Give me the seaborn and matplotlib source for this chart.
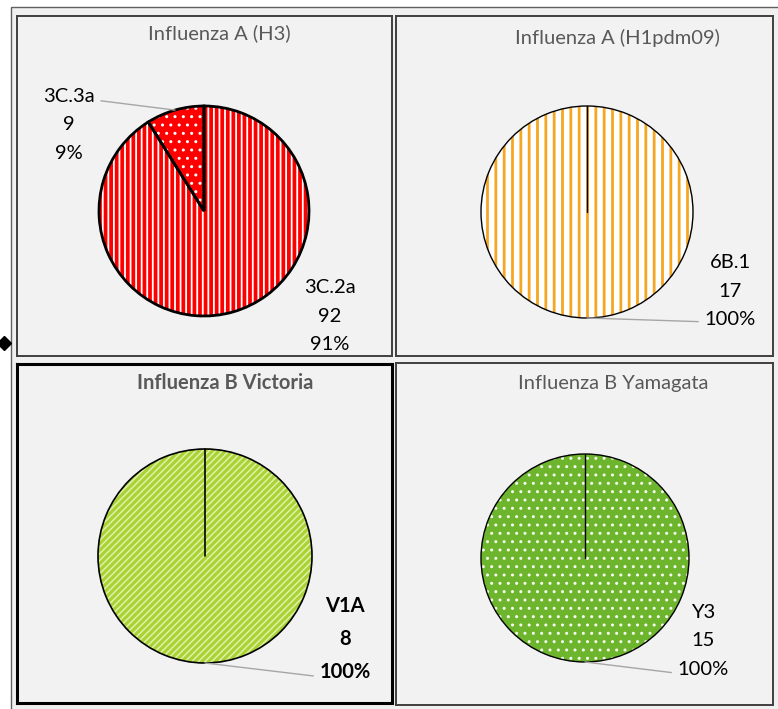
import numpy as np
import matplotlib
matplotlib.use('Agg')
import matplotlib.pyplot as plt
from matplotlib.patches import Rectangle
from matplotlib.lines import Line2D
import seaborn as sns

sns.set_theme(style='white')
plt.rcParams['font.family'] = ['Lato', 'DejaVu Sans']

# data
titles = ['Influenza A (H3)', 'Influenza A (H1pdm09)',
          'Influenza B Victoria', 'Influenza B Yamagata']
h3_clades = ['3C.2a', '3C.3a']
h3_counts = [92, 9]
h1_clades = ['6B.1']
h1_counts = [17]
bvic_clades = ['V1A']
bvic_counts = [8]
byam_clades = ['Y3']
byam_counts = [15]

W, H = 778, 709
fig = plt.figure(figsize=(W / 100, H / 100), dpi=100)
fig.patch.set_facecolor('white')

# outer frame of the whole chart group (behind the panels)
fig.add_artist(Rectangle((11 / W, -0.01), 1, 1 - 7 / H + 0.01,
                         transform=fig.transFigure, facecolor='#F0F0F0',
                         edgecolor='#606060', lw=1, zorder=-10))

LABEL_FS = 14.5
TITLE_FS = 14.5
LSP = 1.8


def panel(box, center, radius, title, title_xy, clades, counts, styles,
          label_xy, lead_rel, bold=False, border_color='#404040',
          border_lw=1.4, edge_lw=1.0):
    x0, y0, x1, y1 = box
    ax = fig.add_axes([x0 / W, 1 - y1 / H, (x1 - x0) / W, (y1 - y0) / H])
    cx, cy = center[0], H - center[1]

    # hatched fill (hatch colour comes from the edge colour)
    fills, _ = ax.pie(counts, startangle=90, counterclock=False,
                      center=(cx, cy), radius=radius,
                      colors=[s['face'] for s in styles],
                      wedgeprops=dict(linewidth=0))
    for w, s in zip(fills, styles):
        w.set_hatch(s['hatch'])
        w.set_edgecolor(s['hcolor'])
        if hasattr(w, 'set_hatch_linewidth'):
            w.set_hatch_linewidth(s['hlw'])

    # black outlines on top
    outl, _ = ax.pie(counts, startangle=90, counterclock=False,
                     center=(cx, cy), radius=radius,
                     wedgeprops=dict(fill=False, edgecolor='black',
                                     linewidth=edge_lw))
    if len(counts) == 1:
        a = np.deg2rad(outl[0].theta1)
        ax.plot([cx, cx + radius * np.cos(a)], [cy, cy + radius * np.sin(a)],
                color='black', lw=edge_lw)

    total = sum(counts)
    weight = 'bold' if bold else 'normal'
    for w, name, n, (lx, ly), rel in zip(outl, clades, counts, label_xy, lead_rel):
        txt = f"{name}\n{n}\n{n / total * 100:.0f}%"
        mid = np.deg2rad((w.theta1 + w.theta2) / 2)
        edge = (cx + radius * np.cos(mid), cy + radius * np.sin(mid))
        if rel is None:
            ax.text(lx, H - ly, txt, ha='center', va='center', fontsize=LABEL_FS,
                    linespacing=LSP, color='black', fontweight=weight)
        else:
            ax.annotate(txt, xy=edge, xytext=(lx, H - ly), ha='center',
                        va='center', fontsize=LABEL_FS, linespacing=LSP,
                        color='black', fontweight=weight,
                        arrowprops=dict(arrowstyle='-', color='#A6A6A6', lw=1,
                                        relpos=rel, shrinkA=2, shrinkB=0))

    ax.text(title_xy[0], H - title_xy[1], title, ha='center', va='center',
            fontsize=TITLE_FS, color='#595959', fontweight=weight)

    ax.set_aspect('auto')
    ax.set_xlim(x0, x1)
    ax.set_ylim(H - y1, H - y0)
    ax.set_xticks([])
    ax.set_yticks([])
    ax.set_frame_on(True)
    ax.set_facecolor('#F2F2F2')
    for sp in ax.spines.values():
        sp.set_visible(True)
        sp.set_color(border_color)
        sp.set_linewidth(border_lw)
    return ax


red_stripes = dict(face='#FF0000', hatch='|||', hcolor='white', hlw=1.3)
red_dots = dict(face='#FF0000', hatch='..', hcolor='white', hlw=1.0)
orange_stripes = dict(face='white', hatch='||', hcolor='#F5A623', hlw=2.0)
lime_diag = dict(face='#A9D334', hatch='/////', hcolor='#E0F0A8', hlw=1.1)
green_dots = dict(face='#6DB52C', hatch='..', hcolor='#F4FAEE', hlw=1.0)

panel((17, 16, 392, 356), (204, 211), 105, titles[0], (219, 33),
      h3_clades, h3_counts, [red_stripes, red_dots],
      [(330, 316), (69, 125)], [None, (1, 0.84)], edge_lw=2.0)

panel((396, 16, 773, 356), (587, 212), 106, titles[1], (617, 38),
      h1_clades, h1_counts, [orange_stripes],
      [(730, 291)], [(0, 0.08)])

panel((17, 364, 392, 703), (205, 556), 107, titles[2], (225, 383),
      bvic_clades, bvic_counts, [lime_diag],
      [(345, 639)], [(0, 0.06)], bold=True, border_color='black',
      border_lw=2.2, edge_lw=1.2)

panel((396, 363, 773, 705), (585, 558), 104, titles[3], (613, 383),
      byam_clades, byam_counts, [green_dots],
      [(703, 641)], [(0, 0.06)])

# small selection handle at the left edge
fig.add_artist(Line2D([4 / W], [1 - 343 / H], marker='D', color='black',
                      markersize=7, transform=fig.transFigure))

fig.savefig('out.png', dpi=100)
